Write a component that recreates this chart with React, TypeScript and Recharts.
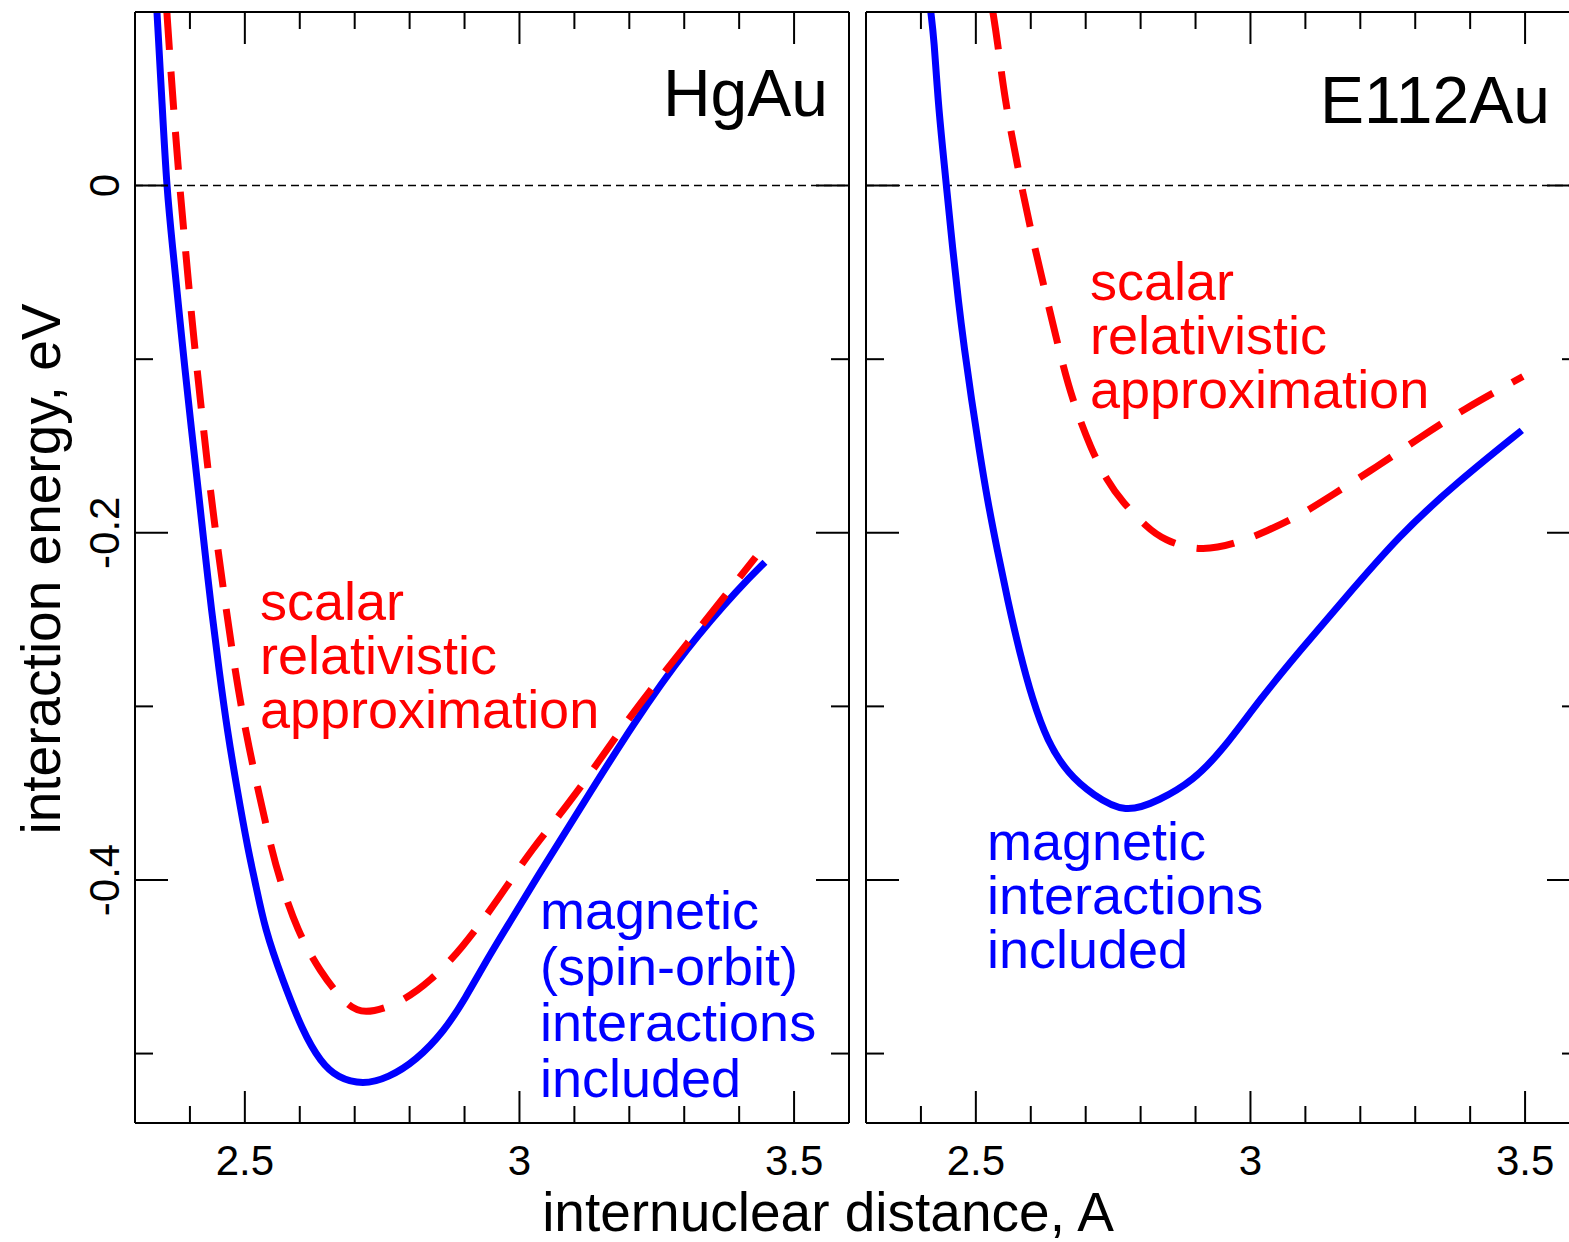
import React from 'react';
import { LineChart, Line, XAxis, YAxis, ReferenceLine } from 'recharts';

const FONT = '"Liberation Sans", Arial, Helvetica, sans-serif';

// axes
const X_DOMAIN = [2.3, 3.6];
const Y_DOMAIN = [-0.54, 0.1];
const X_TICKS = [2.4, 2.5, 2.6, 2.7, 2.8, 2.9, 3, 3.1, 3.2, 3.3, 3.4, 3.5];
const X_LABELS = [2.5, 3, 3.5];
const Y_TICKS = [0, -0.1, -0.2, -0.3, -0.4, -0.5];
const Y_LABELS = [0, -0.2, -0.4];

// HgAu, magnetic (spin-orbit) interactions included  [distance A, energy eV]
const HGAU_SO: [number, number][] = [
  [2.340, 0.100], [2.349, 0.049], [2.358, -0.003], [2.369, -0.037], [2.380, -0.072],
  [2.391, -0.106], [2.403, -0.141], [2.415, -0.175], [2.427, -0.210], [2.439, -0.244],
  [2.453, -0.279], [2.468, -0.314], [2.486, -0.348], [2.506, -0.383], [2.518, -0.400],
  [2.537, -0.429], [2.568, -0.457], [2.605, -0.487], [2.638, -0.505], [2.669, -0.514],
  [2.715, -0.518], [2.761, -0.514], [2.812, -0.504], [2.863, -0.487], [2.900, -0.469],
  [2.946, -0.443], [2.987, -0.422], [3.025, -0.402], [3.116, -0.356], [3.207, -0.310],
  [3.305, -0.266], [3.402, -0.231], [3.447, -0.217],
];

// HgAu, scalar relativistic approximation
const HGAU_SR: [number, number][] = [
  [2.358, 0.100], [2.369, 0.049], [2.382, -0.003], [2.392, -0.037], [2.402, -0.072],
  [2.413, -0.106], [2.425, -0.141], [2.437, -0.175], [2.451, -0.210], [2.466, -0.244],
  [2.482, -0.279], [2.501, -0.314], [2.524, -0.348], [2.549, -0.383], [2.564, -0.400],
  [2.595, -0.429], [2.637, -0.453], [2.682, -0.471], [2.715, -0.478], [2.783, -0.471],
  [2.839, -0.458], [2.894, -0.440], [2.962, -0.411], [3.022, -0.382], [3.099, -0.353],
  [3.199, -0.306], [3.315, -0.260], [3.430, -0.214],
];

// E112Au, magnetic interactions included
const E112AU_SO: [number, number][] = [
  [2.418, 0.100], [2.424, 0.084], [2.431, 0.049], [2.440, 0.020], [2.447, -0.002],
  [2.458, -0.037], [2.468, -0.066], [2.479, -0.094], [2.492, -0.123], [2.506, -0.152],
  [2.521, -0.181], [2.539, -0.210], [2.558, -0.239], [2.579, -0.268], [2.603, -0.296],
  [2.630, -0.320], [2.668, -0.339], [2.713, -0.351], [2.772, -0.362], [2.835, -0.354],
  [2.895, -0.343], [2.950, -0.325], [3.017, -0.296], [3.090, -0.268], [3.163, -0.241],
  [3.272, -0.201], [3.376, -0.171], [3.494, -0.141],
];

// E112Au, scalar relativistic approximation
const E112AU_SR: [number, number][] = [
  [2.531, 0.100], [2.539, 0.084], [2.553, 0.049], [2.571, 0.020], [2.584, -0.002],
  [2.608, -0.037], [2.630, -0.066], [2.651, -0.094], [2.675, -0.123], [2.710, -0.152],
  [2.739, -0.170], [2.766, -0.182], [2.812, -0.197], [2.841, -0.204], [2.908, -0.211],
  [2.976, -0.206], [3.030, -0.199], [3.090, -0.190], [3.145, -0.179], [3.230, -0.162],
  [3.309, -0.145], [3.387, -0.129], [3.496, -0.110],
];

const toRows = (pts: [number, number][]) => pts.map(([x, y]) => ({ x, y }));
const has = (list: number[], v: number) => list.some((t) => Math.abs(t - v) < 1e-6);
const fmt = (v: number) => (Math.abs(v) < 1e-9 ? '0' : String(Math.round(v * 10) / 10));

const AXIS_LINE = { stroke: '#000', strokeWidth: 2 };

const xTick = (side: 'top' | 'bottom') => (props: any) => {
  const { x, y, payload } = props;
  const major = has(X_LABELS, payload.value);
  const len = major ? 32 : 17;
  const dir = side === 'top' ? 1 : -1;
  return (
    <g>
      <line x1={x} x2={x} y1={y} y2={y + dir * len} stroke="#000" strokeWidth={2} />
      {side === 'bottom' && major && (
        <text x={x} y={y + 52} textAnchor="middle" fontSize={42} fontFamily={FONT} fill="#000">
          {fmt(payload.value)}
        </text>
      )}
    </g>
  );
};

const yTick = (side: 'left' | 'right', labels: boolean) => (props: any) => {
  const { x, y, payload } = props;
  const major = has(Y_LABELS, payload.value);
  const len = major ? 33 : 18;
  const dir = side === 'left' ? 1 : -1;
  const bx = x - 16;
  return (
    <g>
      <line x1={x} x2={x + dir * len} y1={y} y2={y} stroke="#000" strokeWidth={2} />
      {labels && major && (
        <text
          x={bx}
          y={y}
          transform={`rotate(-90, ${bx}, ${y})`}
          textAnchor="middle"
          fontSize={42}
          fontFamily={FONT}
          fill="#000"
        >
          {fmt(payload.value)}
        </text>
      )}
    </g>
  );
};

function Panel({ left, width, margin, so, sr, yLabels }: any) {
  const axisCommon = {
    type: 'number' as const,
    allowDataOverflow: true,
    interval: 0,
    tickSize: 0,
    tickMargin: 0,
    tickLine: false,
    axisLine: AXIS_LINE,
  };
  return (
    <div style={{ position: 'absolute', left, top: 0 }}>
      <LineChart width={width} height={1242} margin={margin}>
        <XAxis {...axisCommon} xAxisId="b" dataKey="x" orientation="bottom" height={1}
          domain={X_DOMAIN} ticks={X_TICKS} tick={xTick('bottom')} />
        <XAxis {...axisCommon} xAxisId="t" dataKey="x" orientation="top" height={1}
          domain={X_DOMAIN} ticks={X_TICKS} tick={xTick('top')} />
        <YAxis {...axisCommon} yAxisId="l" dataKey="y" orientation="left" width={1}
          domain={Y_DOMAIN} ticks={Y_TICKS} tick={yTick('left', yLabels)} />
        <YAxis {...axisCommon} yAxisId="r" dataKey="y" orientation="right" width={1}
          domain={Y_DOMAIN} ticks={Y_TICKS} tick={yTick('right', false)} />
        <ReferenceLine xAxisId="b" yAxisId="l" y={0} stroke="#000" strokeWidth={1.5} strokeDasharray="8 5" />
        <Line xAxisId="b" yAxisId="l" data={toRows(so)} dataKey="y" type="basis"
          stroke="#0000ff" strokeWidth={7} dot={false} activeDot={false} isAnimationActive={false} />
        <Line xAxisId="b" yAxisId="l" data={toRows(sr)} dataKey="y" type="basis"
          stroke="#ff0000" strokeWidth={7} strokeDasharray="38 22" dot={false} activeDot={false}
          isAnimationActive={false} />
      </LineChart>
    </div>
  );
}

function Lines({ x, baselines, lines, color, size = 54 }: any) {
  return (
    <>
      {lines.map((t: string, i: number) => (
        <text key={t} x={x} y={baselines[i]} fill={color} fontSize={size} fontFamily={FONT}>
          {t}
        </text>
      ))}
    </>
  );
}

export default function App() {
  return (
    <div
      style={{
        position: 'absolute', left: 0, top: 0, width: 1569, height: 1242,
        overflow: 'hidden', background: '#fff', fontFamily: FONT,
      }}
    >
      <Panel left={0} width={880} margin={{ top: 11, left: 134, right: 30, bottom: 118 }}
        so={HGAU_SO} sr={HGAU_SR} yLabels />
      <Panel left={846} width={760} margin={{ top: 11, left: 19, right: 25, bottom: 118 }}
        so={E112AU_SO} sr={E112AU_SR} yLabels={false} />
      <svg width={1569} height={1242} style={{ position: 'absolute', left: 0, top: 0, pointerEvents: 'none' }}>
        <text x={828} y={116} textAnchor="end" fontSize={66} fontFamily={FONT} fill="#000">HgAu</text>
        <text x={1550} y={123} textAnchor="end" fontSize={66} fontFamily={FONT} fill="#000">E112Au</text>
        <Lines x={260} baselines={[620, 674, 728]} color="#ff0000"
          lines={['scalar', 'relativistic', 'approximation']} />
        <Lines x={540} baselines={[929, 985, 1041, 1097]} color="#0000ff"
          lines={['magnetic', '(spin-orbit)', 'interactions', 'included']} />
        <Lines x={1090} baselines={[300, 354, 408]} color="#ff0000"
          lines={['scalar', 'relativistic', 'approximation']} />
        <Lines x={987} baselines={[860, 914, 968]} color="#0000ff"
          lines={['magnetic', 'interactions', 'included']} />
        <text x={60} y={569} transform="rotate(-90, 60, 569)" textAnchor="middle" fontSize={55}
          fontFamily={FONT} fill="#000">interaction energy, eV</text>
        <text x={828} y={1231} textAnchor="middle" fontSize={55} fontFamily={FONT} fill="#000">
          internuclear distance, A
        </text>
      </svg>
    </div>
  );
}
